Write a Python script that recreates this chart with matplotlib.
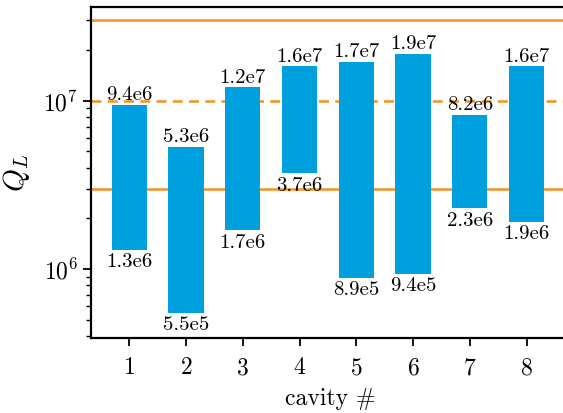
import matplotlib
matplotlib.use("Agg")
import matplotlib.pyplot as plt

plt.rcParams["font.family"] = "cmr10"
plt.rcParams["mathtext.fontset"] = "cm"
plt.rcParams["axes.formatter.use_mathtext"] = True
plt.rcParams["axes.unicode_minus"] = False

cavities = [1, 2, 3, 4, 5, 6, 7, 8]
q_high = [9.4e6, 5.3e6, 1.2e7, 1.6e7, 1.7e7, 1.9e7, 8.2e6, 1.6e7]
q_low = [1.3e6, 5.5e5, 1.7e6, 3.7e6, 8.9e5, 9.4e5, 2.3e6, 1.9e6]
hi_labels = ["9.4e6", "5.3e6", "1.2e7", "1.6e7", "1.7e7", "1.9e7", "8.2e6", "1.6e7"]
lo_labels = ["1.3e6", "5.5e5", "1.7e6", "3.7e6", "8.9e5", "9.4e5", "2.3e6", "1.9e6"]
solid_lines = [3e7, 3e6]
dashed_line = 1e7

blue = "#00a0df"
orange = "#f5921e"

fig = plt.figure(figsize=(5.63, 4.13), dpi=100)
ax = fig.add_axes([0.162, 0.182, 0.85, 0.801])

heights = [h - l for h, l in zip(q_high, q_low)]
ax.bar(cavities, heights, bottom=q_low, width=0.62, color=blue, zorder=2)

for y in solid_lines:
    ax.axhline(y, color=orange, lw=1.8, zorder=1)
ax.axhline(dashed_line, color=orange, lw=1.8, ls=(0, (4, 2.5)), zorder=1)

for x, h, l, th, tl in zip(cavities, q_high, q_low, hi_labels, lo_labels):
    ax.annotate(th, (x, h), xytext=(0, 0.5), textcoords="offset points",
                ha="center", va="bottom", fontsize=15)
    ax.annotate(tl, (x, l), xytext=(0, -2.5), textcoords="offset points",
                ha="center", va="top", fontsize=15)

ax.set_yscale("log")
ax.set_ylim(3.9e5, 3.6e7)
ax.set_xlim(0.33, 8.76)
ax.set_xticks(cavities)
ax.set_xlabel("cavity #", fontsize=17, labelpad=6)
ax.set_ylabel("$Q_L$", fontsize=21, labelpad=8)
ax.tick_params(labelsize=17, width=1.3)
ax.tick_params(axis="x", pad=8)
ax.tick_params(which="major", length=6)
ax.tick_params(which="minor", length=3.5, width=1)
for s in ax.spines.values():
    s.set_linewidth(1.6)

fig.savefig("out.png", dpi=100)
